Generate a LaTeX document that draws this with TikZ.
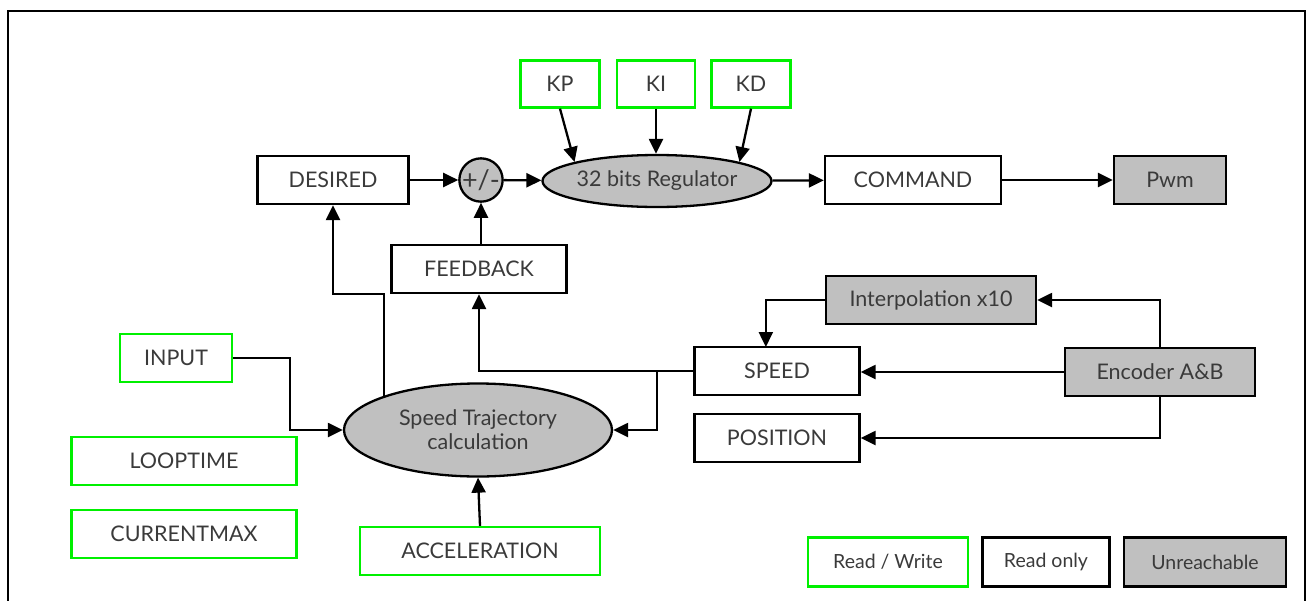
\documentclass[tikz,border=0pt]{standalone}
\usepackage{fontspec}
\setmainfont{Lato}
\usetikzlibrary{shapes.geometric,arrows.meta}
\definecolor{txt}{HTML}{3A3A3A}
\definecolor{rwgreen}{HTML}{00F000}
\definecolor{fillgray}{HTML}{C0C0C0}
\tikzset{
  base/.style={rectangle,inner sep=0pt,text=txt,font=\fontsize{21.5}{24}\selectfont,line width=2.3pt},
  rw/.style={base,draw=rwgreen},
  ro/.style={base,draw=black},
  ur/.style={base,draw=black,fill=fillgray},
  oval/.style={ellipse,inner sep=0pt,draw=black,fill=fillgray,line width=2.3pt,text=txt,
    font=\fontsize{21.5}{24}\selectfont,align=center},
  legend/.style={font=\fontsize{19.5}{22}\selectfont,minimum height=49},
  arr/.style={line width=2.3pt,-{Triangle[length=15pt,width=14pt]}}
}
\begin{document}
\begin{tikzpicture}[x=1pt,y=-1pt]
\useasboundingbox (0,0) rectangle (1307,600);
% outer frame
\draw[line width=2.5pt] (8,602) -- (8,11) -- (1305,11) -- (1305,602);

% gain registers
\node[rw,minimum width=79,minimum height=47] (kp) at (560,84) {KP};
\node[rw,minimum width=78,minimum height=47] (ki) at (656,84) {KI};
\node[rw,minimum width=79,minimum height=47] (kd) at (751,84) {KD};

% regulator loop
\node[ro,minimum width=151,minimum height=48] (desired) at (333,180) {DESIRED};
\node[circle,draw=black,fill=fillgray,line width=2.3pt,minimum size=36,inner sep=0pt,
  text=txt,font=\fontsize{27}{28}\selectfont] (sum) at (481,180) {+/-};
\node[oval,minimum width=229,minimum height=52] (reg) at (657,181) {32 bits Regulator};
\node[ro,minimum width=176,minimum height=48] (cmd) at (913,180) {COMMAND};
\node[ur,minimum width=112,minimum height=48] (pwm) at (1170,180) {Pwm};
\node[ro,minimum width=175,minimum height=48] (fb) at (479,269) {FEEDBACK};

% encoder side
\node[ur,minimum width=210,minimum height=48] (interp) at (931,300) {Interpolation x10};
\node[ro,minimum width=165,minimum height=48] (speed) at (777,371) {SPEED};
\node[ur,minimum width=190,minimum height=48] (enc) at (1160,372) {Encoder A\&B};
\node[ro,minimum width=165,minimum height=48] (pos) at (777,438) {POSITION};

% trajectory generator and its parameters
\node[rw,minimum width=112,minimum height=48] (input) at (176,358) {INPUT};
\node[rw,minimum width=225,minimum height=48] (loop) at (184,461) {LOOPTIME};
\node[rw,minimum width=225,minimum height=48] (curmax) at (184,534) {CURRENTMAX};
\node[oval,minimum width=268,minimum height=93] (traj) at (478,430) {Speed Trajectory\\calculation};
\node[rw,minimum width=240,minimum height=48] (acc) at (480,551) {ACCELERATION};

% legend
\node[rw,legend,minimum width=160] (lrw) at (888,562) {Read / Write};
\node[ro,legend,minimum width=127] (lro) at (1046,562) {Read only};
\node[ur,legend,minimum width=162] (lur) at (1205,562) {Unreachable};

% connectors
\draw[arr] (desired) -- (sum);
\draw[arr] (sum) -- (reg);
\draw[arr] (kp.south) -- (reg.167);
\draw[arr] (ki.south) -- (ki.south |- reg.north);
\draw[arr] (kd.south) -- (reg.13);
\draw[arr] (reg) -- (cmd);
\draw[arr] (cmd) -- (pwm);
\draw[arr] (fb.north -| sum.south) -- (sum.south);
\draw[arr] (traj.160) -- (traj.160 |- fb.south) -| (desired.south);
\draw[arr] (speed.west) -| (fb.south);
\coordinate (br) at (657,371);
\draw[arr] (br) |- (traj.east);
\draw[arr] (input.east) -- ++(57,0) |- (traj.west);
\draw[arr] (acc.north) -- (traj.south);
\draw[arr] (interp.west) -- ++(-59,0) -- ++(0,47);
\draw[arr] (enc.north) |- (interp.east);
\draw[arr] (enc.west) -- (enc.west -| speed.east);
\draw[arr] (enc.south) |- (pos.east);
\end{tikzpicture}
\end{document}
